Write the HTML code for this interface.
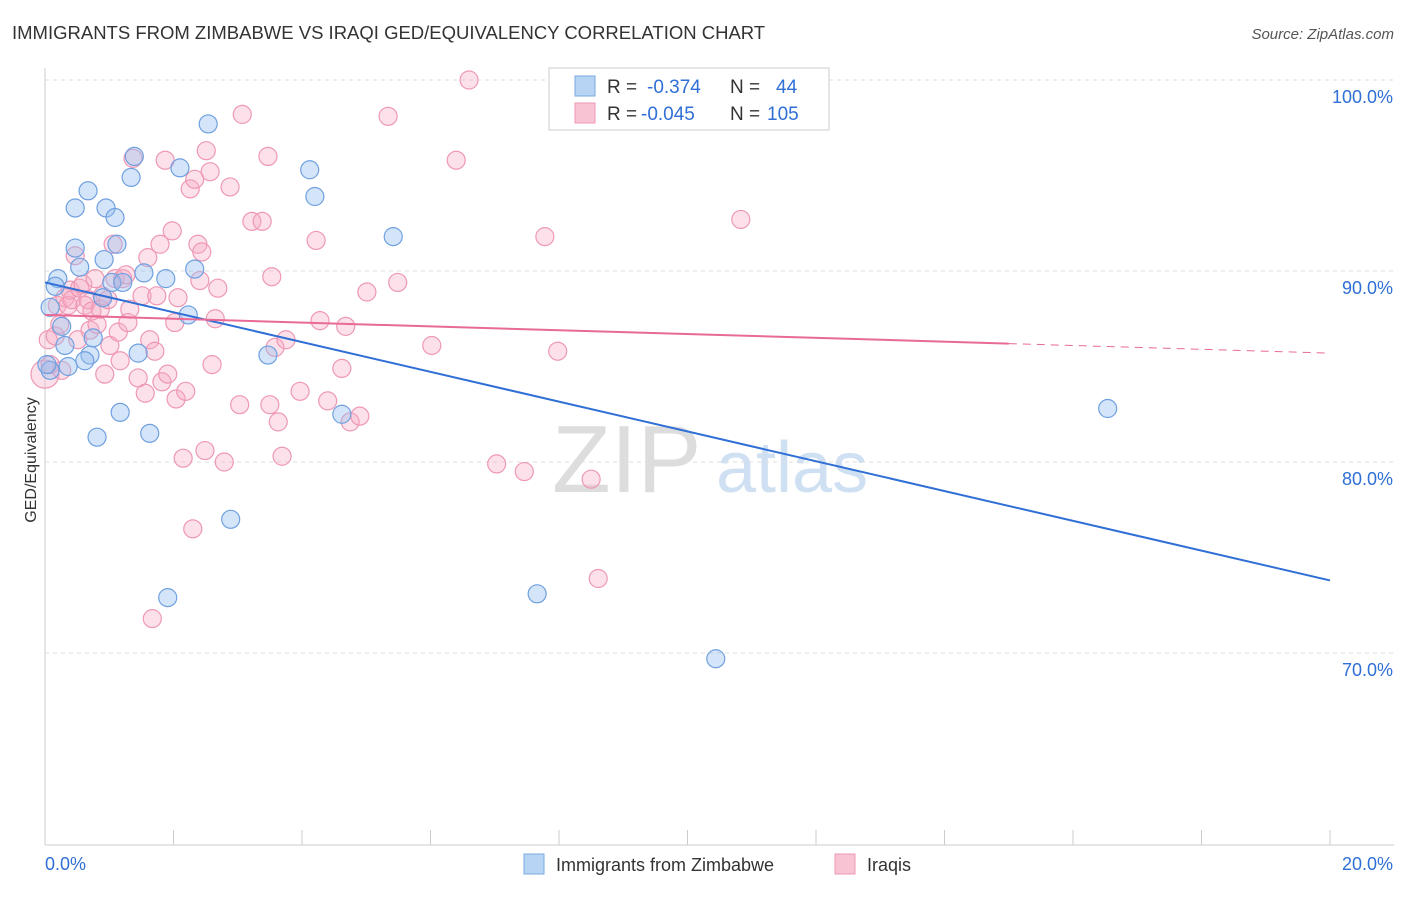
<!DOCTYPE html>
<html><head><meta charset="utf-8"><style>
body{margin:0;background:#fff;font-family:"Liberation Sans",sans-serif;}
svg text{font-family:"Liberation Sans",sans-serif;}
</style></head><body>
<svg id="chart" width="1406" height="892">
<text x="12" y="39" font-size="18.5" fill="#333">IMMIGRANTS FROM ZIMBABWE VS IRAQI GED/EQUIVALENCY CORRELATION CHART</text>
<text x="1394" y="39" font-size="15" fill="#555" text-anchor="end" font-style="italic">Source: ZipAtlas.com</text>
<text x="36" y="460" font-size="16" fill="#333" text-anchor="middle" transform="rotate(-90 36 460)">GED/Equivalency</text>
<g>
<text x="552" y="492" font-size="96" fill="#ddd" font-family="Liberation Serif,serif">ZIP</text>
<text x="716" y="492" font-size="72" fill="#cfe0f3">atlas</text>
</g>
<g id="grid"></g><g id="pts"></g><g id="lines"></g>
<g>
<rect x="549" y="68" width="280" height="62" fill="#fff" stroke="#ccc"/>
<rect x="575" y="76" width="20" height="20" fill="#b8d4f4" stroke="#7aa8e0"/>
<rect x="575" y="103" width="20" height="20" fill="#f8c4d4" stroke="#ee98b4"/>
<text x="607" y="93" font-size="19" fill="#333">R =</text>
<text x="647" y="93" font-size="19" fill="#2f6fd6">-0.374</text>
<text x="730" y="93" font-size="19" fill="#333">N =</text>
<text x="776" y="93" font-size="19" fill="#2f6fd6">44</text>
<text x="607" y="120" font-size="19" fill="#333">R =</text>
<text x="641" y="120" font-size="19" fill="#2f6fd6">-0.045</text>
<text x="730" y="120" font-size="19" fill="#333">N =</text>
<text x="767" y="120" font-size="19" fill="#2f6fd6">105</text>
</g>
<g>
<rect x="524" y="854" width="20" height="20" fill="#b8d4f4" stroke="#7aa8e0"/>
<text x="556" y="871" font-size="18" fill="#333">Immigrants from Zimbabwe</text>
<rect x="835" y="854" width="20" height="20" fill="#f8c4d4" stroke="#ee98b4"/>
<text x="867" y="871" font-size="18" fill="#333">Iraqis</text>
</g>
</svg>
<script>
const blueX=[0.08,0.2,0.16,0.26,0.31,0.36,0.47,0.47,0.54,0.67,0.7,0.75,0.81,0.9,0.92,0.95,1.04,1.09,1.12,1.17,1.21,1.34,1.39,1.45,1.54,1.63,1.88,1.91,2.1,2.23,2.33,2.54,2.89,3.47,4.12,4.2,4.62,5.42,7.66,10.44,16.54,0.08,0.03,0.62];
const blueY=[88.1,89.6,89.2,87.1,86.1,85.0,93.3,91.2,90.2,94.2,85.6,86.5,81.3,88.6,90.6,93.3,89.4,92.8,91.4,82.6,89.4,94.9,96.0,85.7,89.9,81.5,89.6,72.9,95.4,87.7,90.1,97.7,77.0,85.6,95.3,93.9,82.5,91.8,73.1,69.7,82.8,84.8,85.1,85.3];
const pinkX=[0,.05,.08,.16,.19,.23,.26,.31,.36,.39,.42,.47,.51,.54,.59,.62,.67,.7,.73,.78,.81,.86,.89,.93,.98,1.01,1.06,1.09,1.14,1.17,1.21,1.26,1.29,1.32,1.37,1.45,1.51,1.56,1.6,1.63,1.67,1.71,1.74,1.79,1.82,1.87,1.91,1.98,2.02,2.04,2.07,2.15,2.19,2.26,2.3,2.33,2.38,2.41,2.44,2.49,2.51,2.57,2.6,2.65,2.69,2.79,2.88,3.03,3.07,3.22,3.38,3.47,3.5,3.53,3.58,3.63,3.69,3.75,3.97,4.22,4.28,4.4,4.62,4.68,4.75,4.9,5.01,5.34,5.49,6.02,6.4,6.6,7.03,7.46,7.78,7.98,8.5,8.61,10.83];
const pinkY=[84.6,86.4,85.1,86.6,88.2,87.2,84.8,88.6,88.2,89.0,88.5,90.8,86.4,89.1,89.3,88.2,88.5,86.9,87.9,89.6,87.2,88.0,88.7,84.6,88.5,86.1,91.4,89.6,86.8,85.3,89.6,89.8,87.3,88.0,95.9,84.4,88.7,83.6,90.7,86.4,71.8,85.8,88.7,91.4,84.2,95.8,84.6,92.1,87.3,83.3,88.6,80.2,83.7,94.3,76.5,94.8,91.4,89.5,91.0,80.6,96.3,95.2,85.1,87.5,89.1,80.0,94.4,83.0,98.2,92.6,92.6,96.0,83.0,89.7,86.0,82.1,80.3,86.4,83.7,91.6,87.4,83.2,84.9,87.1,82.1,82.4,88.9,98.1,89.4,86.1,95.8,100.0,79.9,79.5,91.8,85.8,79.1,73.9,92.7];
const blueTrend=[89.4,73.8];
const pinkTrend=[87.7,85.7];
const yTicks=[100,90,80,70];
const xTicks=[0,2,4,6,8,10,12,14,16,18,20];
const NS="http://www.w3.org/2000/svg";
const sx=v=>45+v/20*1285, sy=v=>80+(100-v)*19.1;
function mk(tag,attrs,parent){const e=document.createElementNS(NS,tag);for(const k in attrs)e.setAttribute(k,attrs[k]);document.getElementById(parent).appendChild(e);return e;}
const g='grid';
let ax=mk('line',{x1:45,y1:68,x2:45,y2:845,stroke:'#ccc'},g);


let bx=mk('line',{x1:45,y1:845,x2:1394,y2:845,stroke:'#ccc'},g);


yTicks.forEach(t=>{
 let l=mk('line',{x1:45,y1:sy(t),x2:1394,y2:sy(t),stroke:'#ddd','stroke-dasharray':'4,4'},g);
 
 
 let tx=mk('text',{x:1393,y:sy(t)+23,'font-size':18,fill:'#2f6fd6','text-anchor':'end'},g);
 tx.textContent=t.toFixed(1)+'%';
 
 
});
xTicks.forEach(t=>{
 let l=mk('line',{x1:sx(t),y1:830,x2:sx(t),y2:845,stroke:'#ccc'},g);
 
 
});
let x0=mk('text',{x:45,y:870,'font-size':18,fill:'#2f6fd6'},g);x0.textContent='0.0%';


let x1=mk('text',{x:1393,y:870,'font-size':18,fill:'#2f6fd6','text-anchor':'end'},g);x1.textContent='20.0%';


pinkX.forEach((x,i)=>{
 let c=mk('circle',{cx:sx(x),cy:sy(pinkY[i]),r:i==0?14:9,fill:'rgba(245,170,195,0.35)',stroke:'#ee98b4','stroke-width':1.2},'pts');
 
 
});
blueX.forEach((x,i)=>{
 let c=mk('circle',{cx:sx(x),cy:sy(blueY[i]),r:9,fill:'rgba(150,190,240,0.4)',stroke:'#6fa0e0','stroke-width':1.2},'pts');
 
 
});
let bl=mk('line',{x1:sx(0),y1:sy(blueTrend[0]),x2:sx(20),y2:sy(blueTrend[1]),stroke:'#2f6fd6','stroke-width':2},'lines');


const pAt=x=>pinkTrend[0]+(pinkTrend[1]-pinkTrend[0])*x/20;
let pl=mk('line',{x1:sx(0),y1:sy(pAt(0)),x2:sx(15),y2:sy(pAt(15)),stroke:'#e86a96','stroke-width':2},'lines');


let pd=mk('line',{x1:sx(15),y1:sy(pAt(15)),x2:sx(20),y2:sy(pAt(20)),stroke:'#e86a96','stroke-width':1,'stroke-dasharray':'8,6'},'lines');


</script>
</body></html>
